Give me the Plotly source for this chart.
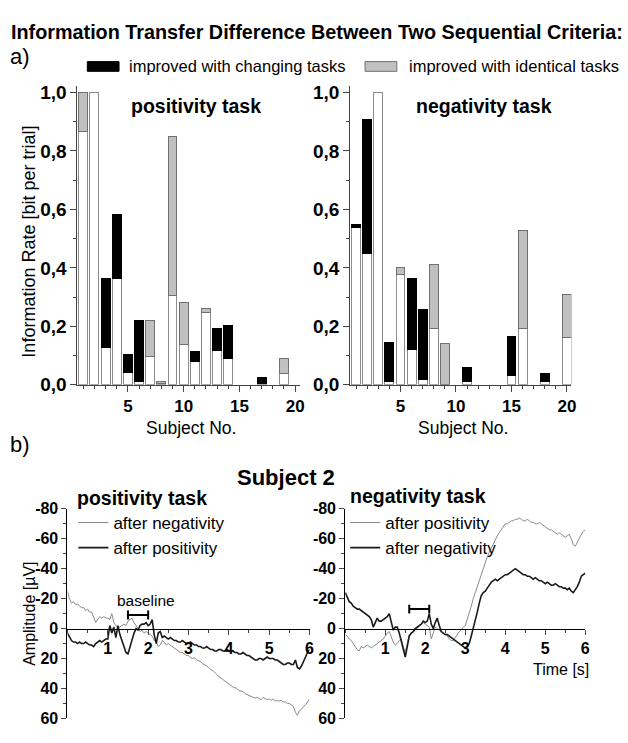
import plotly.graph_objects as go

W, H = 628, 743
FONT = "Liberation Sans, Arial, sans-serif"

# ---------------- data: part a) information rates ----------------
subjects = list(range(1, 21))
pos_base = [0.867, 1.0, 0.126, 0.363, 0.041, 0.013, 0.098, 0.004, 0.306, 0.137,
            0.080, 0.247, 0.117, 0.091, None, None, 0.004, None, 0.037, None]
pos_changing = [None, None, 0.237, 0.218, 0.062, 0.207, None, None, None, None,
                0.035, None, 0.074, 0.112, None, None, 0.022, None, None, None]
pos_identical = [0.133, None, None, None, None, None, 0.123, 0.008, 0.544, 0.143,
                 None, 0.014, None, None, None, None, None, None, 0.054, None]

neg_base = [0.537, 0.448, 1.0, 0.011, 0.376, 0.122, 0.017, 0.191, None, None,
            0.012, None, None, None, 0.031, 0.191, None, 0.010, None, 0.161]
neg_changing = [0.010, 0.458, None, 0.134, None, 0.240, 0.239, None, None, None,
                0.047, None, None, None, 0.134, None, None, 0.029, None, None]
neg_identical = [None, None, None, None, 0.026, None, None, 0.221, 0.142, None,
                 None, None, None, None, None, 0.338, None, None, None, 0.149]

bar_yticks = [0.0, 0.2, 0.4, 0.6, 0.8, 1.0]
bar_ytext = ["0,0", "0,2", "0,4", "0,6", "0,8", "1,0"]
bar_xticks = [5, 10, 15, 20]

# ---------------- data: part b) Subject 2 amplitudes (µV) ----------------
time_s = [round(i * 0.05, 2) for i in range(121)]

pos_after_neg = [
    -25, -20, -17, -18, -16, -16.5, -15, -14, -14, -12, -13, -11, -11, -7, -4, -6, -8, -7, -8, -7,
    -7, -6, -10, -4, -2, -1, -1, -2, -3, -2, -5, -6, -7, -4, -2, 0, 2, 1, 3, 2,
    3, 4, 5, 8, 9, 12, 11, 8, 9, 11, 10, 11, 12, 13, 14, 15, 16, 16, 17, 18,
    18, 19.5, 20, 19.5, 21, 21.5, 22, 23.5, 24, 25, 26, 27.5, 28, 29, 30.5, 32, 33, 34.5, 35, 36,
    37, 38.5, 39, 39.5, 40, 41.5, 42, 42, 43.5, 44, 45, 45.5, 46, 46.5, 46, 47, 47.5, 46, 47, 47.5,
    47, 48, 47, 48.5, 48, 48.5, 48, 49, 49, 50, 50, 51, 52, 56, 58, 55, 54, 52, 51, 49,
    47]
pos_after_pos = [
    3, 6, 8, 9, 9, 10, 9, 10, 10, 9, 10, 11, 11, 12, 10, 9, 8, 9, 8, 7,
    7, -2, 3, -1, 6, -2, 4, 8, 13, 16, 17, 12, 7, 3, 0, 1, -2, -3, -3, -4,
    -2, -3, -6, 4, 10, 3, 2, 6, 5, 6, 7, 6, 7, 8, 8, 9, 9, 8, 9, 10,
    10, 9, 10, 11, 11, 12, 12, 13, 13, 12, 13, 14, 14, 15, 15, 14, 14, 15, 15, 14,
    15, 15, 15, 16, 16, 17, 17, 16, 17, 18, 18, 19, 20, 21, 21, 20, 20, 21, 20, 19,
    20, 20, 20, 21, 21, 22, 23, 24, 24, 23, 23, 24, 24, 21, 26, 27, 25, 22, 18, 16,
    14]
neg_after_pos = [
    4, 5, 7, 8, 10, 12, 14, 15, 12, 13, 12, 11, 12, 13, 12, 11, 10, 9, 8, 7,
    5, 3, 2, 6, 9, 11, 10, 8, 7, 12, 16, 10, 4, 3, 2, 1, 0, -2, -3, -4,
    -3, -2, -1, 7, 3, -1, 0, 1, 2, 3, 4, 5, 7, 8, 8, 6, 4, 2, 1, -1,
    -2, -6, -11, -15, -20, -24, -28, -33, -37, -41, -45, -48, -51, -54, -57, -59, -62, -64, -66, -68,
    -70, -70, -71, -72, -72, -73, -73, -74, -73, -72, -72, -73, -72, -71, -71, -70, -70, -71, -70, -69,
    -68, -67, -66, -66, -65, -64, -63, -64, -63, -62, -61, -62, -63, -60, -56, -55, -58, -60, -63, -65,
    -66]
neg_after_neg = [
    -24, -21, -18, -17, -15, -14, -13, -13, -12, -11, -10, -9, -8, -6, -1, -4, -7, -5, -5, -6,
    -7, -8, -10, -4, 1, -1, -1, 3, 8, 14, 19, 12, 5, 3, 2, 0, -1, -2, -3, -5,
    -4, -5, -10, -3, 0, -4, -7, -2, 2, 3, 4, 4, 5, 6, 7, 8, 9, 10, 11, 12,
    13, 12, 10, 5, 0, -5, -11, -17, -22, -24, -25, -27, -29, -31, -32, -33, -32, -33, -34, -35,
    -36, -36, -37, -38, -39, -40, -39, -38, -37, -36, -36, -35, -35, -34, -33, -34, -33, -32, -32, -31,
    -30, -31, -30, -29, -29, -30, -29, -28, -28, -27, -27, -26, -27, -25, -24, -26, -28, -31, -35, -36,
    -37]

amp_ticks = [-80, -60, -40, -20, 0, 20, 40, 60]
amp_text = ["-80", "-60", "-40", "-20", "0", "20", "40", "60"]
time_ticks = [1, 2, 3, 4, 5, 6]
baseline_pos = [1.5, 2.0]
baseline_neg = [1.6, 2.1]

# ---------------- helpers ----------------
def px_x(p):
    return p / W

def px_y(p):
    return 1 - p / H

fig = go.Figure()

WHITE = dict(color="white", line=dict(color="#8c8c8c", width=1))
BLACK = dict(color="black", line=dict(color="black", width=1))
GRAY = dict(color="#c0c0c0", line=dict(color="#707070", width=1))

for xa, ya, base, chg, ide in [("x", "y", pos_base, pos_changing, pos_identical),
                               ("x2", "y2", neg_base, neg_changing, neg_identical)]:
    fig.add_trace(go.Bar(x=subjects, y=base, marker=WHITE, width=0.8, xaxis=xa, yaxis=ya,
                         showlegend=False, name="lower criterion"))
    fig.add_trace(go.Bar(x=subjects, y=chg, marker=BLACK, width=0.8, xaxis=xa, yaxis=ya,
                         showlegend=False, name="improved with changing tasks"))
    fig.add_trace(go.Bar(x=subjects, y=ide, marker=GRAY, width=0.8, xaxis=xa, yaxis=ya,
                         showlegend=False, name="improved with identical tasks"))

# EEG traces
fig.add_trace(go.Scatter(x=time_s, y=pos_after_neg, mode="lines", xaxis="x3", yaxis="y3",
                         line=dict(color="#8a8a8a", width=1), name="after negativity",
                         legend="legend2"))
fig.add_trace(go.Scatter(x=time_s, y=pos_after_pos, mode="lines", xaxis="x3", yaxis="y3",
                         line=dict(color="#1a1a1a", width=1.6), name="after positivity",
                         legend="legend2"))
fig.add_trace(go.Scatter(x=time_s, y=neg_after_pos, mode="lines", xaxis="x4", yaxis="y4",
                         line=dict(color="#8a8a8a", width=1), name="after positivity",
                         legend="legend3"))
fig.add_trace(go.Scatter(x=time_s, y=neg_after_neg, mode="lines", xaxis="x4", yaxis="y4",
                         line=dict(color="#1a1a1a", width=1.6), name="after negativity",
                         legend="legend3"))

tickfont_by = dict(family=FONT, size=19, color="black", weight="bold")
tickfont_bx = dict(family=FONT, size=17, color="black", weight="bold")
tickfont_e = dict(family=FONT, size=16, color="black", weight="bold")

bar_x_common = dict(range=[0.47, 20.4], tickvals=bar_xticks, ticks="outside", ticklen=6,
                    showline=True, linecolor="#444", linewidth=1, showgrid=False, zeroline=False,
                    tickfont=tickfont_bx, tickcolor="#444",
                    minor=dict(dtick=1, tick0=0, ticks="outside", ticklen=3, tickcolor="#444"))
bar_y_common = dict(range=[0, 1.022], tickvals=bar_yticks, ticktext=bar_ytext, ticks="outside",
                    ticklen=6, showline=True, linecolor="#444", linewidth=1, showgrid=False,
                    zeroline=False, tickfont=tickfont_by, tickcolor="#444",
                    minor=dict(dtick=0.1, tick0=0, ticks="outside", ticklen=3, tickcolor="#444"))

bar_ydom = [px_y(386.7), px_y(80)]
eeg_ydom = [px_y(729), px_y(514)]
zero_pos = px_y(637)

eeg_x_common = dict(range=[0, 6], tickvals=time_ticks, ticks="outside", ticklen=5,
                    showline=True, linecolor="black", linewidth=1, showgrid=False, zeroline=False,
                    tickfont=tickfont_e, anchor="free", position=zero_pos,
                    minor=dict(dtick=0.5, tick0=0, ticks="outside", ticklen=3))
eeg_y_common = dict(range=[60, -80], tickvals=amp_ticks, ticktext=amp_text, ticks="outside",
                    ticklen=5, showline=True, linecolor="black", linewidth=1, showgrid=False,
                    zeroline=False, tickfont=tickfont_e, domain=eeg_ydom,
                    minor=dict(dtick=10, tick0=0, ticks="outside", ticklen=3))

legend_common = dict(font=dict(family=FONT, size=17, color="black"), bgcolor="rgba(0,0,0,0)",
                     borderwidth=0, xanchor="left", yanchor="top", tracegroupgap=0,
                     itemwidth=30)

fig.update_layout(
    width=W, height=H, margin=dict(l=0, r=0, t=0, b=0),
    paper_bgcolor="white", plot_bgcolor="white",
    barmode="stack", bargap=0.2, showlegend=True,
    font=dict(family=FONT, color="black"),
    xaxis=dict(domain=[px_x(78), px_x(302)], anchor="y", **bar_x_common),
    yaxis=dict(domain=bar_ydom, anchor="x", **bar_y_common),
    xaxis2=dict(domain=[px_x(353), px_x(576)], anchor="y2", **bar_x_common),
    yaxis2=dict(domain=bar_ydom, anchor="x2", **bar_y_common),
    xaxis3=dict(domain=[px_x(68), px_x(312)], **eeg_x_common),
    yaxis3=dict(anchor="x3", **eeg_y_common),
    xaxis4=dict(domain=[px_x(348), px_x(590)], **eeg_x_common),
    yaxis4=dict(anchor="x4", **eeg_y_common),
    legend2=dict(x=px_x(74), y=px_y(510), **legend_common),
    legend3=dict(x=px_x(348), y=px_y(510), **legend_common),
)

ann = []
def text(x, y, s, size, bold=False, xanchor="center", angle=0):
    ann.append(dict(x=px_x(x), y=px_y(y), xref="paper", yref="paper", text=s,
                    showarrow=False, xanchor=xanchor, yanchor="middle", textangle=angle,
                    font=dict(family=FONT, size=size, color="black",
                              weight="bold" if bold else "normal")))

text(320, 25, "Information Transfer Difference Between Two Sequential Criteria:", 19.8, True)
text(8, 50, "a)", 22, False, "left")
text(128, 60, "improved with changing tasks", 16.5, False, "left")
text(410, 60, "improved with identical tasks", 16.5, False, "left")
text(198, 101, "positivity task", 19.5, True)
text(488, 101, "negativity task", 19.5, True)
text(29, 240, "Information Rate [bit per trial]", 18, False, "center", -90)
text(193, 431, "Subject No.", 17.5)
text(467, 431, "Subject No.", 17.5)
text(8, 448, "b)", 22, False, "left")
text(288, 482, "Subject 2", 22, True)
text(143, 503, "positivity task", 19.5, True)
text(421, 501, "negativity task", 19.5, True)
text(29, 622, "Amplitude [µV]", 16, False, "center", -90)
text(147, 608, "baseline", 15.5)
text(566, 679, "Time [s]", 16)
fig.update_layout(annotations=ann)

shapes = [
    dict(type="rect", xref="paper", yref="paper", x0=px_x(88), x1=px_x(120),
         y0=px_y(65), y1=px_y(55), fillcolor="black", line=dict(color="black", width=1)),
    dict(type="rect", xref="paper", yref="paper", x0=px_x(368), x1=px_x(400),
         y0=px_y(65), y1=px_y(55), fillcolor="#c0c0c0", line=dict(color="#707070", width=1)),
]
for xr, yr, (b0, b1), yv in [("x3", "y3", baseline_pos, -9), ("x4", "y4", baseline_neg, -13)]:
    shapes.append(dict(type="line", xref=xr, yref=yr, x0=b0, x1=b1, y0=yv, y1=yv,
                       line=dict(color="black", width=2)))
    for bx in (b0, b1):
        shapes.append(dict(type="line", xref=xr, yref=yr, x0=bx, x1=bx, y0=yv - 3, y1=yv + 3,
                           line=dict(color="black", width=2)))
fig.update_layout(shapes=shapes)

fig.write_html("out.html")
